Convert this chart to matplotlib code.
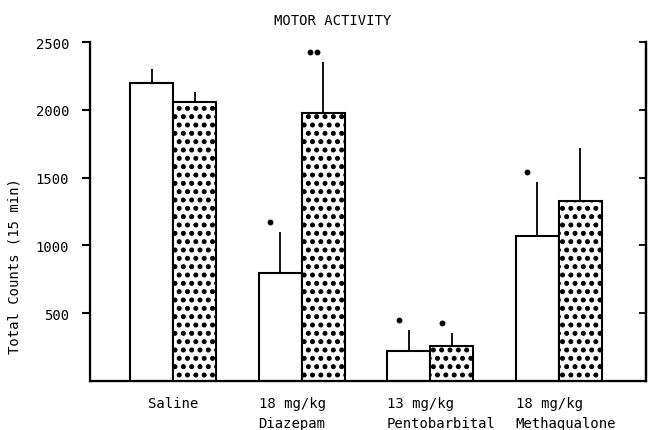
import matplotlib
matplotlib.use("Agg")
import matplotlib.pyplot as plt
import matplotlib.hatch as mhatch
import matplotlib.transforms as mtransforms
import numpy as np

# --- DATA ---
groups = ["Saline", "18 mg/kg\nDiazepam", "13 mg/kg\nPentobarbital", "18 mg/kg\nMethaqualone"]
open_mean = [2200, 800, 220, 1070]
open_err = [100, 300, 155, 400]
dotted_mean = [2060, 1980, 260, 1330]
dotted_err = [70, 370, 95, 390]
open_sig = [0, 1, 1, 1]      # number of significance dots
dotted_sig = [0, 2, 1, 0]
y_ticks = [500, 1000, 1500, 2000, 2500]

# --- STYLE ---
plt.rcParams["font.family"] = "DejaVu Sans Mono"
plt.rcParams["font.size"] = 10
plt.rcParams["hatch.linewidth"] = 0.7
plt.rcParams["hatch.color"] = "black"
mhatch.SmallFilledCircles.size = 0.24   # bigger filled dots for the stipple

WIDTH = 0.335
x = np.arange(len(groups))

fig = plt.figure(figsize=(6.49, 4.31), dpi=100)
ax = fig.add_axes([0.1387, 0.1137, 0.8567, 0.7865])

ax.bar(x - WIDTH / 2, open_mean, WIDTH, color="white", edgecolor="black", linewidth=1.5,
       yerr=[np.zeros(len(x)), open_err],
       error_kw=dict(ecolor="black", elinewidth=1.3, capsize=0))
ax.bar(x + WIDTH / 2, dotted_mean, WIDTH, color="white", edgecolor="black", linewidth=1.5,
       hatch="..",
       yerr=[np.zeros(len(x)), dotted_err],
       error_kw=dict(ecolor="black", elinewidth=1.3, capsize=0))

# significance dots, a little left of and above each error bar
for i in range(len(groups)):
    for xc, top, n in [(x[i] - WIDTH / 2, open_mean[i] + open_err[i], open_sig[i]),
                       (x[i] + WIDTH / 2, dotted_mean[i] + dotted_err[i], dotted_sig[i])]:
        for k in range(n):
            dx = -10 + (k - (n - 1) / 2) * 7
            off = mtransforms.ScaledTranslation(dx / 100, 10 / 100, fig.dpi_scale_trans)
            ax.plot(xc, top, "o", color="black", markersize=3.2, transform=ax.transData + off,
                    clip_on=False)

ax.set_xlim(-0.646, 3.68)
ax.set_ylim(0, 2500)
ax.set_yticks(y_ticks)
ax.set_xticks([])
ax.tick_params(axis="y", direction="out", length=6, width=1.5, pad=9)
for side in ["left", "bottom", "right"]:
    ax.spines[side].set_linewidth(1.6)
ax.spines["top"].set_visible(False)

# right frame line with inward ticks
ax2 = ax.twinx()
ax2.set_ylim(0, 2500)
ax2.set_yticks(y_ticks)
ax2.tick_params(direction="in", length=5, width=1.3, labelright=False)
ax2.spines["top"].set_visible(False)
ax2.spines["right"].set_linewidth(1.6)

# group labels under the axis
trans = mtransforms.blended_transform_factory(ax.transData, ax.transAxes)
for i, name in enumerate(groups):
    if i == 0:
        ax.text(x[i], -0.045, name, transform=trans, ha="center", va="top", linespacing=1.55)
    else:
        ax.text(x[i] - WIDTH, -0.045, name, transform=trans, ha="left", va="top",
                linespacing=1.55)

fig.text(333 / 649, 1 - 21 / 431, "MOTOR ACTIVITY", ha="center", va="center")
fig.text(15 / 649, 1 - 266 / 431, "Total Counts (15 min)", rotation=90,
         ha="center", va="center")

fig.savefig("out.png", dpi=100)
